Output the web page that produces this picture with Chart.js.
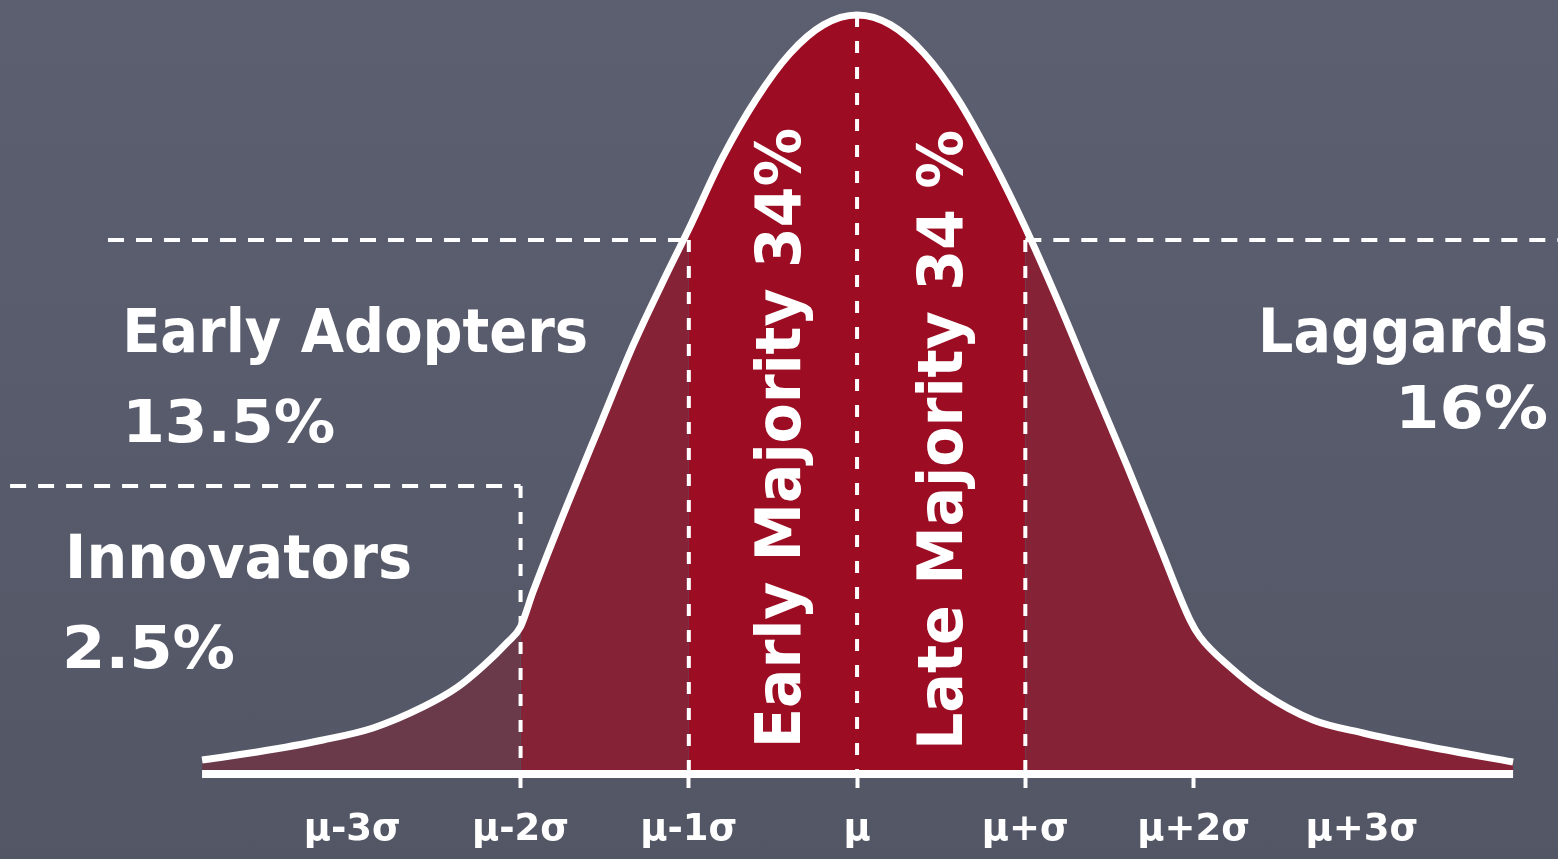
<!DOCTYPE html>
<html>
<head>
<meta charset="utf-8">
<script src="https://cdn.jsdelivr.net/npm/chart.js@4.4.1/dist/chart.umd.min.js"></script>
<style>
  html, body { margin: 0; padding: 0; }
  body { width: 1558px; height: 859px; overflow: hidden;
         background: linear-gradient(180deg, #5c5f6f 0%, #585b6b 50%, #535665 100%); }
  #wrap { position: relative; width: 1558px; height: 859px; }
</style>
</head>
<body>
<div id="wrap"><canvas id="c"></canvas></div>
<script>
// ---- data (x in σ units from μ, y as % of peak height) ----
const tickValues = [-3, -2, -1, 0, 1, 2, 3];
const tickLabels = ['μ-3σ', 'μ-2σ', 'μ-1σ', 'μ', 'μ+σ', 'μ+2σ', 'μ+3σ'];
const tickMarkValues = [-2, -1, 0, 1, 2];

const curveX = [-3.893, -3.566, -3.174, -2.877, -2.580, -2.377, -2.223, -2.080, -2.0,
                -1.926, -1.724, -1.527, -1.331, -1.129, -1.0, -0.8, -0.6, -0.4, -0.2, 0,
                0.2, 0.4, 0.6, 0.8, 1.0, 1.2, 1.403, 1.605, 1.801, 1.979, 2.039,
                2.217, 2.413, 2.710, 3.007, 3.406, 3.899];
const curveY = [1.84, 2.90, 4.48, 6.06, 8.83, 11.4, 14.2, 17.3, 19.4,
                24.0, 35.4, 46.0, 56.5, 66.0, 71.8, 81.2, 88.9, 94.9, 98.7, 100,
                98.7, 94.9, 88.9, 81.0, 72.0, 62.0, 51.2, 40.6, 29.9, 20.3, 18.05,
                14.10, 10.67, 7.11, 5.40, 3.56, 1.58];

const baselineX = [-3.893, 3.899];
const sigmaBounds = [-2, -1, 1];            // region boundaries
const upperLevel = 70.36;                   // dashed level at ±1σ
const innovatorLevel = 37.94;               // dashed box around Innovators
const upperLeftX = [-4.452, -1];
const upperRightX = [1, 4.166];
const innovatorBoxX = [-5.034, -2];

const groupNames = ['Innovators', 'Early Adopters', 'Early Majority', 'Late Majority', 'Laggards'];
const groupShares = ['2.5%', '13.5%', '34%', '34 %', '16%'];

// ---- styles ----
const COL_TAIL = '#6b3a4a';
const COL_OUTER = '#862236';
const COL_MID = '#9c0d23';
const WHITE = '#ffffff';
const FONT = '"DejaVu Sans", Verdana, sans-serif';

const pts = curveX.map((x, i) => ({ x, y: curveY[i] }));
function seg(xs, level) { return xs.map(x => ({ x, y: level })); }

const textPlugin = {
  id: 'texts',
  afterDraw(chart) {
    const { ctx } = chart;
    const xs = chart.scales.x, ys = chart.scales.y;
    const X = v => xs.getPixelForValue(v), Y = v => ys.getPixelForValue(v);
    ctx.save();
    ctx.fillStyle = WHITE;
    ctx.textBaseline = 'alphabetic';
    // draw text scaled horizontally to a target width
    const put = (txt, x, y, align, size, w, angle) => {
      ctx.save();
      ctx.translate(x, y);
      if (angle) ctx.rotate(angle);
      ctx.font = 'bold ' + size + 'px ' + FONT;
      const m = ctx.measureText(txt).width;
      const k = w / m;
      ctx.scale(k, 1);
      ctx.textAlign = 'left';
      ctx.fillText(txt, align === 'right' ? -m : 0, 0);
      ctx.restore();
    };
    put(groupNames[1], X(-4.368), Y(55.6), 'left', 60, 466);
    put(groupShares[1], X(-4.368), Y(43.74), 'left', 58, 213);
    put(groupNames[0], X(-4.707), Y(25.82), 'left', 61, 347);
    put(groupShares[0], X(-4.725), Y(13.97), 'left', 58, 173);
    put(groupNames[4], X(4.107), Y(55.6), 'right', 60, 290);
    put(groupShares[4], X(4.107), Y(45.59), 'right', 58, 153);
    put(groupNames[2] + ' ' + groupShares[2], X(-0.339), Y(3.43), 'left', 62, 620, -Math.PI / 2);
    put(groupNames[3] + ' ' + groupShares[3], X(0.624), Y(3.16), 'left', 62, 620, -Math.PI / 2);
    ctx.restore();
  }
};

const dashedH = [16, 12], dashedV = [12, 14];
const dashLine = (data, dash) => ({
  data, borderColor: WHITE, borderWidth: 4, borderDash: dash, pointRadius: 0,
  fill: false, tension: 0, order: 2, clip: false, borderCapStyle: 'butt'
});

new Chart(document.getElementById('c'), {
  type: 'line',
  data: {
    datasets: [
      { // white curve
        data: pts, borderColor: WHITE, borderWidth: 7, pointRadius: 0, fill: false,
        cubicInterpolationMode: 'monotone', order: 0, clip: false, borderCapStyle: 'butt'
      },
      { // baseline
        data: seg(baselineX, 0), borderColor: WHITE, borderWidth: 8, pointRadius: 0,
        fill: false, order: 1, clip: false, borderCapStyle: 'butt'
      },
      dashLine(seg(upperLeftX, upperLevel), dashedH),
      dashLine(seg(upperRightX, upperLevel), dashedH),
      dashLine(seg(innovatorBoxX, innovatorLevel), dashedH),
      dashLine([{ x: sigmaBounds[0], y: innovatorLevel }, { x: sigmaBounds[0], y: 0 }], dashedV),
      dashLine([{ x: sigmaBounds[1], y: upperLevel }, { x: sigmaBounds[1], y: 0 }], dashedV),
      dashLine([{ x: 0, y: 100 }, { x: 0, y: 0 }], dashedV),
      dashLine([{ x: sigmaBounds[2], y: upperLevel }, { x: sigmaBounds[2], y: 0 }], dashedV),
      { // filled area
        data: pts, borderWidth: 0, borderColor: 'rgba(0,0,0,0)', pointRadius: 0,
        backgroundColor: COL_OUTER, fill: 'origin', cubicInterpolationMode: 'monotone',
        order: 3,
        segment: {
          backgroundColor: c => {
            const x0 = c.p0.parsed.x;
            if (x0 < sigmaBounds[0] - 1e-9) return COL_TAIL;
            if (x0 < sigmaBounds[1] - 1e-9) return COL_OUTER;
            if (x0 < sigmaBounds[2] - 1e-9) return COL_MID;
            return COL_OUTER;
          }
        }
      }
    ]
  },
  options: {
    responsive: true,
    maintainAspectRatio: false,
    animation: false,
    layout: { padding: 0 },
    plugins: { legend: { display: false }, tooltip: { enabled: false } },
    events: [],
    scales: {
      x: {
        type: 'linear', min: -5.094, max: 4.166,
        afterBuildTicks: s => { s.ticks = tickValues.map(v => ({ value: v })); },
        afterFit: s => { s.height = 85; },
        border: { display: false },
        grid: {
          display: true, drawOnChartArea: false, drawTicks: true, tickLength: 14,
          tickWidth: 4,
          tickColor: c => (c.tick && tickMarkValues.includes(c.tick.value)) ? WHITE : 'rgba(0,0,0,0)'
        },
        ticks: {
          autoSkip: false, maxRotation: 0, minRotation: 0, padding: 20,
          color: WHITE,
          font: { family: FONT, size: 37, weight: 'bold' },
          callback: (v) => { const i = tickValues.indexOf(v); return i >= 0 ? tickLabels[i] : ''; }
        }
      },
      y: { type: 'linear', min: 0, max: 101.98, display: false }
    }
  },
  plugins: [textPlugin]
});
</script>
</body>
</html>
